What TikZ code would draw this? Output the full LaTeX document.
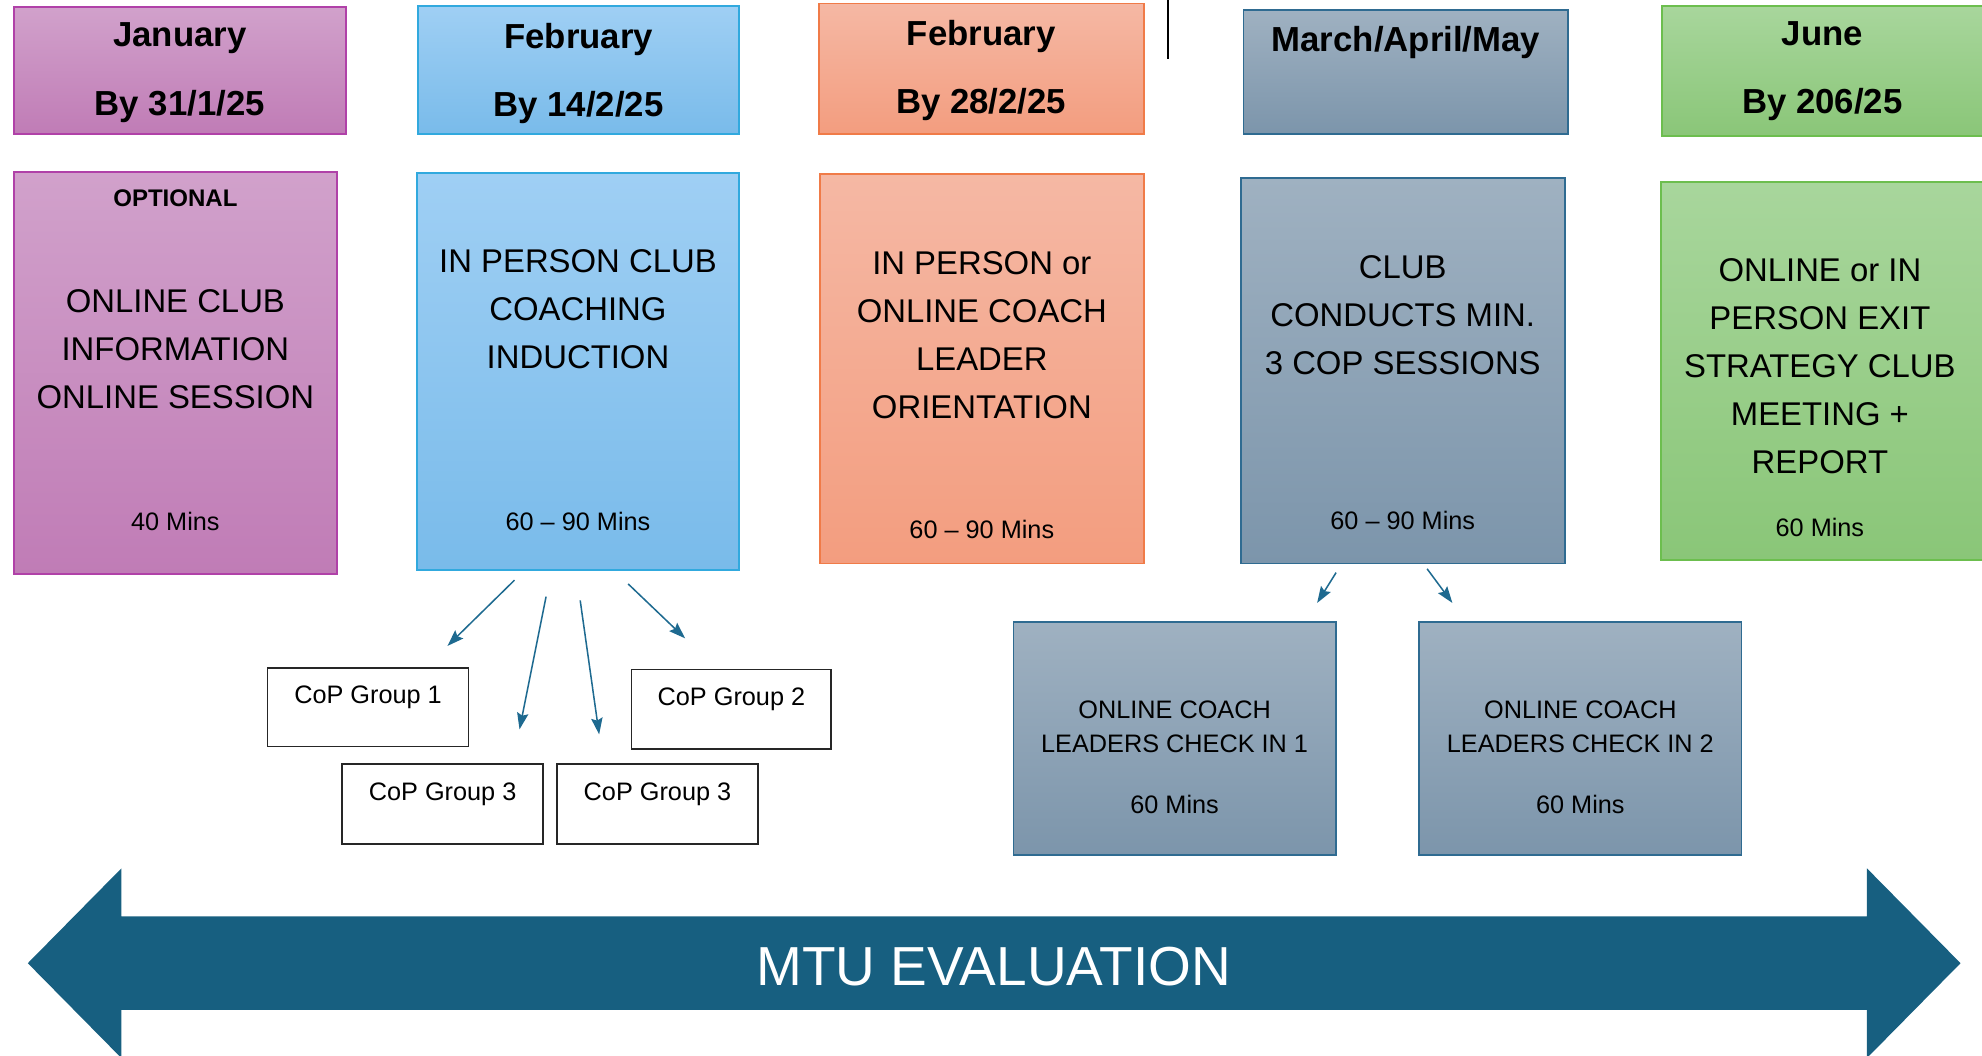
\documentclass[tikz,border=0pt]{standalone}
\usepackage{fontspec}
\setmainfont{Liberation Sans}
\usepackage{tikz}
\usetikzlibrary{positioning}
\usetikzlibrary{arrows.meta}

\definecolor{janTop}{HTML}{D1A1CB}
\definecolor{janBot}{HTML}{C07CB6}
\definecolor{janLine}{HTML}{B041A8}
\definecolor{febTop}{HTML}{9FCFF4}
\definecolor{febBot}{HTML}{79BBEA}
\definecolor{febLine}{HTML}{31A9DE}
\definecolor{orTop}{HTML}{F5B8A4}
\definecolor{orBot}{HTML}{F39D7F}
\definecolor{orLine}{HTML}{F07B48}
\definecolor{marTop}{HTML}{9FB1C1}
\definecolor{marBot}{HTML}{7C95AB}
\definecolor{marLine}{HTML}{2F6B91}
\definecolor{junTop}{HTML}{A8D69C}
\definecolor{junBot}{HTML}{8AC678}
\definecolor{junLine}{HTML}{6CBE4E}
\definecolor{evalBlue}{HTML}{175F80}
\definecolor{arrowBlue}{HTML}{1E6A90}

\begin{document}
\begin{tikzpicture}[
    x=1pt, y=-1pt,      % screen-like units, y grows downwards
    node distance=14pt, % default gap between a box top and its text
    ]
% -------------------------------------------------
\tikzset{
  base/.style={draw, rectangle, anchor=north west, inner sep=0pt, line width=1.5pt},
  jan/.style={base, top color=janTop, bottom color=janBot, draw=janLine},
  feb/.style={base, top color=febTop, bottom color=febBot, draw=febLine},
  ora/.style={base, top color=orTop, bottom color=orBot, draw=orLine},
  mar/.style={base, top color=marTop, bottom color=marBot, draw=marLine},
  jun/.style={base, top color=junTop, bottom color=junBot, draw=junLine},
  cop/.style={base, line width=1.3pt, draw=black!85, fill=white},
  headtxt/.style={align=center, inner sep=0pt, font=\fontsize{27.5}{54}\selectfont\bfseries},
  txt/.style={align=center, inner sep=0pt, font=\fontsize{26}{38}\selectfont},
  mins/.style={align=center, inner sep=0pt, font=\fontsize{20}{27}\selectfont},
  line/.style={draw, line width=1.2pt, arrowBlue, -{Stealth[length=13pt, width=9pt, inset=2pt]}}
}
% -------------------------------------------------
\useasboundingbox (0,0) rectangle (1568,835);

% Month headers
\node[jan, minimum width=263pt, minimum height=100pt] (h0) at (10,5) {};
\node[feb, minimum width=254pt, minimum height=101pt] (h1) at (330,4) {};
\node[ora, minimum width=257pt, minimum height=103pt] (h2) at (647,2) {};
\node[mar, minimum width=257pt, minimum height=98pt]  (h3) at (983,7) {};
\node[jun, minimum width=264pt, minimum height=103pt] (h4) at (1314,4) {};

\node[headtxt, below=13pt of h0.north] (l0) {January\\By 31/1/25};
\node[headtxt, below=14pt of h1.north] (l1) {February\\By 14/2/25};
\node[headtxt, below=14pt of h2.north] (l2) {February\\By 28/2/25};
\node[headtxt, below=14pt of h3.north] (l3) {March/April/May};
\node[headtxt, below=13pt of h4.north, xshift=-5pt] (l4) {June\\By 206/25};

\draw[line width=1.5pt] (924,0) -- (924,47);

% Sessions
\node[jan, minimum width=256pt, minimum height=318pt] (p0) at (10,135) {};
\node[feb, minimum width=255pt, minimum height=314pt] (p1) at (329,136) {};
\node[ora, minimum width=256pt, minimum height=308pt] (p2) at (648,137) {};
\node[mar, minimum width=256pt, minimum height=305pt] (p3) at (981,140) {};
\node[jun, minimum width=264pt, minimum height=299pt] (p4) at (1313,143) {};

\node[mins, font=\fontsize{19}{22}\selectfont\bfseries, below=15pt of p0.north] (opt) {OPTIONAL};
\node[txt, below=94pt of p0.north] (t0) {ONLINE CLUB\\INFORMATION\\ONLINE SESSION};
\node[txt, below=61pt of p1.north] (t1) {IN PERSON CLUB\\COACHING\\INDUCTION};
\node[txt, below=62pt of p2.north] (t2) {IN PERSON or\\ONLINE COACH\\LEADER\\ORIENTATION};
\node[txt, below=62pt of p3.north] (t3) {CLUB\\CONDUCTS MIN.\\3 COP SESSIONS};
\node[txt, below=61pt of p4.north, xshift=-6pt] (t4) {ONLINE or IN\\PERSON EXIT\\STRATEGY CLUB\\MEETING +\\REPORT};

\node[mins, below=270pt of p0.north] (m0) {40 Mins};
\node[mins, below=269pt of p1.north] (m1) {60 – 90 Mins};
\node[mins, below=274pt of p2.north] (m2) {60 – 90 Mins};
\node[mins, below=264pt of p3.north] (m3) {60 – 90 Mins};
\node[mins, below=267pt of p4.north, xshift=-6pt] (m4) {60 Mins};

% CoP groups
\node[cop, minimum width=159pt, minimum height=62pt] (c0) at (211,528) {};
\node[cop, minimum width=158pt, minimum height=63pt] (c1) at (499,529) {};
\node[cop, minimum width=159pt, minimum height=63pt] (c2) at (270,604) {};
\node[cop, minimum width=159pt, minimum height=63pt] (c3) at (440,604) {};

\node[mins, below=of c0.north] (ct0) {CoP Group 1};
\node[mins, below=15pt of c1.north] (ct1) {CoP Group 2};
\node[mins, below=15pt of c2.north] (ct2) {CoP Group 3};
\node[mins, below=15pt of c3.north] (ct3) {CoP Group 3};

% Check ins
\node[mar, minimum width=255pt, minimum height=185pt] (k0) at (801,491) {};
\node[mar, minimum width=255pt, minimum height=185pt] (k1) at (1122,491) {};

\node[mins, below=63pt of k0.north] (kt0) {ONLINE COACH\\LEADERS CHECK IN 1};
\node[mins, below=63pt of k1.north] (kt1) {ONLINE COACH\\LEADERS CHECK IN 2};
\node[mins, below=138pt of k0.north] (km0) {60 Mins};
\node[mins, below=138pt of k1.north] (km1) {60 Mins};

% Arrow ends
\coordinate (s0) at (407,459);  \coordinate (e0) at (354,511);
\coordinate (s1) at (432,472);  \coordinate (e1) at (411,577);
\coordinate (s2) at (459,475);  \coordinate (e2) at (474,581);
\coordinate (s3) at (497,462);  \coordinate (e3) at (542,505);
\coordinate (s4) at (1057,453); \coordinate (e4) at (1042,477);
\coordinate (s5) at (1129,450); \coordinate (e5) at (1149,477);

\path [line] (s0) -- (e0);
\path [line] (s1) -- (e1);
\path [line] (s2) -- (e2);
\path [line] (s3) -- (e3);
\path [line] (s4) -- (e4);
\path [line] (s5) -- (e5);

% Evaluation band
\fill[evalBlue] (22,762) -- (96,687) -- (96,725) -- (1477,725) -- (1477,687)
  -- (1551,762) -- (1477,837) -- (1477,799) -- (96,799) -- (96,837) -- cycle;
\node[text=white, inner sep=0pt, font=\fontsize{43.5}{50}\selectfont] (ev) at (786,765) {MTU EVALUATION};

\end{tikzpicture}
\end{document}
